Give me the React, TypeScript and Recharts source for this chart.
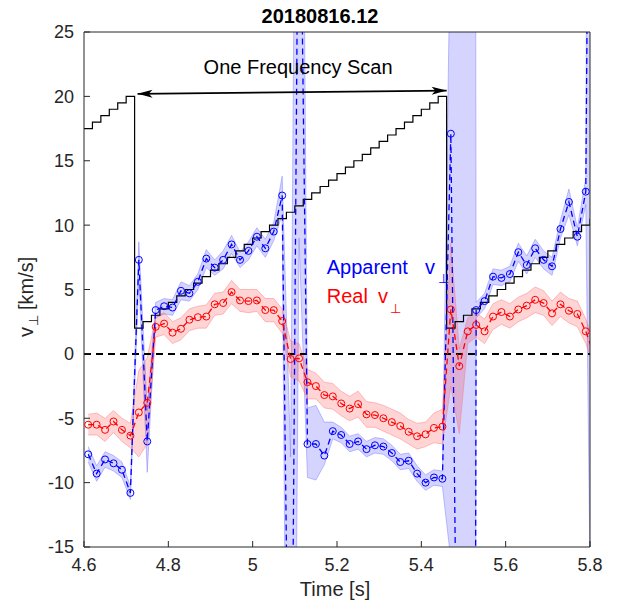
import React from "react";
import { ComposedChart, Line, Area, XAxis, YAxis, ReferenceLine } from "recharts";

const FONT = "'Liberation Sans', Arial, Helvetica, sans-serif";
const INK = "#262626";

// sample times of the velocity estimates [s]
const sampleTimes = [
  4.61, 4.63, 4.65, 4.67, 4.69, 4.71, 4.73, 4.75, 4.77, 4.79, 4.81, 4.83, 4.85, 4.87, 4.89, 4.91,
  4.93, 4.95, 4.97, 4.99, 5.01, 5.03, 5.05, 5.07, 5.09, 5.11, 5.13, 5.15, 5.17, 5.19, 5.21, 5.23,
  5.25, 5.27, 5.29, 5.31, 5.33, 5.35, 5.37, 5.39, 5.41, 5.43, 5.45, 5.47, 5.49, 5.51, 5.53, 5.55,
  5.57, 5.59, 5.61, 5.63, 5.65, 5.67, 5.69, 5.71, 5.73, 5.75, 5.77, 5.79, 5.81,
];

// apparent v_perp [km/s] and its uncertainty band
const apparentV = [
  -7.8, -9.3, -8.2, -8.5, -9.0, -10.8, 7.3, -6.8, 3.4, 3.7, 3.6, 4.9, 4.7, 5.6, 7.4, 6.7,
  7.3, 8.5, 7.3, 8.0, 9.1, 8.2, 9.5, 12.3, -42, 46, -7.0, -7.0, -7.9, -6.0, -6.3, -7.0,
  -6.8, -7.4, -7.1, -7.2, -7.7, -8.4, -8.3, -9.3, -10.0, -9.6, -9.7, 17.1, -45, -300, 3.4, 4.1,
  6.0, 5.9, 6.2, 7.9, 6.9, 8.2, 7.3, 6.8, 9.7, 11.8, 9.1, 12.6, 100,
];
const apparentLo = [
  -8.4, -9.9, -8.8, -9.1, -9.6, -11.3, 5.9, -9.2, 2.8, 3.1, 3.0, 4.2, 4.1, 5.0, 6.7, 6.1,
  6.6, 7.8, 6.7, 7.3, 8.4, 7.5, 8.8, 10.8, -76, 9, -9.6, -9.8, -8.6, -6.6, -6.9, -7.6,
  -7.4, -8.0, -7.7, -7.8, -8.3, -9.0, -8.9, -9.9, -10.6, -10.2, -10.3, -16, -500, -500, 2.8, 3.5,
  5.4, 5.3, 5.6, 7.2, 6.2, 7.5, 6.6, 6.1, 9.0, 10.8, 8.4, 11.6, -45,
];
const apparentHi = [
  -7.2, -8.7, -7.6, -7.9, -8.4, -10.3, 8.7, -4.4, 4.0, 4.3, 4.2, 5.6, 5.3, 6.2, 8.1, 7.3,
  8.0, 9.2, 7.9, 8.7, 9.8, 8.9, 10.2, 13.8, -8, 83, -4.2, -4.0, -5.3, -5.3, -5.7, -6.4,
  -6.2, -6.8, -6.5, -6.6, -7.1, -7.8, -7.7, -8.7, -9.4, -9.0, -9.1, 35, 500, 500, 4.0, 4.7,
  6.6, 6.5, 6.8, 8.6, 7.6, 8.9, 8.0, 7.5, 10.4, 12.8, 9.8, 13.6, 200,
];

// real v_perp [km/s] and its uncertainty band
const realV = [
  -5.5, -5.5, -5.9, -5.25, -5.9, -6.35, -4.55, -3.8, 2.1, 2.35, 1.65, 1.95, 2.65, 2.85, 2.9, 3.85,
  3.95, 4.8, 4.15, 4.1, 4.15, 3.4, 3.4, 2.55, -0.4, -0.35, -2.2, -2.5, -3.2, -3.3, -3.85, -4.25,
  -3.9, -4.7, -4.75, -5.0, -5.3, -5.6, -6.05, -6.4, -6.25, -5.75, -5.65, 3.45, -0.95, 1.75, 2.25, 1.75,
  2.9, 3.25, 2.9, 3.45, 3.75, 4.2, 3.95, 3.15, 3.85, 3.35, 3.1, 1.75, -0.1,
];
const realLo = [
  -6.3, -6.3, -6.8, -6.1, -6.8, -7.3, -8.0, -7.0, 1.3, 1.5, 0.8, 1.1, 1.8, 2.0, 2.0, 3.0,
  3.1, 3.9, 3.3, 3.2, 3.3, 2.5, 2.5, 1.6, -1.8, -2.1, -3.5, -3.5, -4.2, -4.3, -4.8, -5.2,
  -4.9, -5.7, -5.7, -6.0, -6.3, -6.6, -7.0, -7.4, -7.2, -6.9, -7.0, -2.5, -6.2, 0.8, 1.3, 0.8,
  1.9, 2.3, 2.0, 2.5, 2.8, 3.2, 3.0, 2.2, 2.9, 2.4, 2.1, 0.8, -1.1,
];
const realHi = [
  -4.7, -4.6, -5.0, -4.4, -5.0, -5.4, -1.3, -0.3, 2.9, 3.2, 2.5, 2.8, 3.5, 3.7, 3.8, 4.7,
  4.8, 5.7, 5.0, 5.0, 5.0, 4.3, 4.3, 3.5, 1.0, 0.8, -1.2, -1.5, -2.2, -2.3, -2.9, -3.3,
  -2.9, -3.7, -3.8, -4.0, -4.3, -4.6, -5.1, -5.4, -5.3, -4.6, -4.3, 8.6, 0.4, 2.8, 3.2, 2.7,
  3.9, 4.2, 3.9, 4.4, 4.7, 5.2, 4.9, 4.1, 4.8, 4.3, 4.1, 2.7, 0.9,
];

// frequency scan (staircase)
const scanTimes = [
  4.6, 4.62, 4.64, 4.66, 4.68, 4.7, 4.72, 4.74, 4.76, 4.78, 4.8, 4.82, 4.84, 4.86, 4.88, 4.9,
  4.92, 4.94, 4.96, 4.98, 5.0, 5.02, 5.04, 5.06, 5.08, 5.1, 5.12, 5.14, 5.16, 5.18, 5.2, 5.22,
  5.24, 5.26, 5.28, 5.3, 5.32, 5.34, 5.36, 5.38, 5.4, 5.42, 5.44, 5.46, 5.48, 5.5, 5.52, 5.54,
  5.56, 5.58, 5.6, 5.62, 5.64, 5.66, 5.68, 5.7, 5.72, 5.74, 5.76, 5.78, 5.8,
];
const scanLevels = [
  17.5, 18, 18.5, 19, 19.5, 20, 2, 2.5, 3, 3.5, 4, 4.5, 5, 5.5, 6, 6.5,
  7, 7.5, 8, 8.5, 9, 9.5, 10, 10.5, 11, 11.5, 12, 12.5, 13, 13.5, 14, 14.5,
  15, 15.5, 16, 16.5, 17, 17.5, 18, 18.5, 19, 19.5, 20, 2, 2.5, 3, 3.5, 4,
  4.5, 5, 5.5, 6, 6.5, 7, 7.5, 8, 8.5, 9, 9.5, 10, 10.5,
];

const xTicks = [4.6, 4.8, 5, 5.2, 5.4, 5.6, 5.8];
const yTicks = [-15, -10, -5, 0, 5, 10, 15, 20, 25];
const scanArrow = [
  { x: 4.727, y: 20.2 },
  { x: 5.46, y: 20.45 },
];

const rows = sampleTimes.map((t, i) => ({
  t,
  apparent: apparentV[i],
  real: realV[i],
  apparentBand: [apparentLo[i], apparentHi[i]],
  realBand: [realLo[i], realHi[i]],
}));
const scanRows = scanTimes.map((t, i) => ({ t, level: scanLevels[i] }));

function head(tx: number, ty: number, ux: number, uy: number) {
  const L = 15;
  const W = 4;
  const nx = -uy;
  const ny = ux;
  const pts = [
    [tx, ty],
    [tx - L * ux + W * nx, ty - L * uy + W * ny],
    [tx - 0.75 * L * ux, ty - 0.75 * L * uy],
    [tx - L * ux - W * nx, ty - L * uy - W * ny],
  ];
  return pts.map((p) => p.join(",")).join(" ");
}

// eslint-disable-next-line @typescript-eslint/no-explicit-any
function ScanArrow(props: any) {
  const { x1, y1, x2, y2 } = props;
  const len = Math.hypot(x2 - x1, y2 - y1) || 1;
  const ux = (x2 - x1) / len;
  const uy = (y2 - y1) / len;
  return (
    <g>
      <line x1={x1} y1={y1} x2={x2} y2={y2} stroke="#000" strokeWidth={1.7} />
      <polygon points={head(x2, y2, ux, uy)} fill="#000" />
      <polygon points={head(x1, y1, -ux, -uy)} fill="#000" />
      <text
        x={(x1 + x2) / 2 + 6}
        y={(y1 + y2) / 2 - 18}
        textAnchor="middle"
        fontSize={20}
        fontFamily={FONT}
        fill="#000"
      >
        One Frequency Scan
      </text>
    </g>
  );
}

const fmtX = (v: number) => String(Number(v.toFixed(1)));

export default function App() {
  return (
    <div style={{ position: "relative", width: 612, height: 599, fontFamily: FONT }}>
      <ComposedChart
        width={612}
        height={599}
        data={rows}
        margin={{ top: 23, right: 29, bottom: 20, left: 16 }}
      >
        <XAxis
          dataKey="t"
          type="number"
          domain={[4.6, 5.8]}
          ticks={xTicks}
          allowDataOverflow
          height={40}
          tickSize={-6}
          tickMargin={17}
          tickFormatter={fmtX}
          stroke={INK}
          tick={{ fill: INK, fontSize: 18, fontFamily: FONT }}
        />
        <XAxis
          xAxisId="top"
          orientation="top"
          type="number"
          domain={[4.6, 5.8]}
          ticks={xTicks}
          allowDataOverflow
          height={1}
          tickSize={-6}
          tick={false}
          stroke={INK}
        />
        <YAxis
          type="number"
          domain={[-15, 25]}
          ticks={yTicks}
          allowDataOverflow
          width={60}
          tickSize={-6}
          tickMargin={16}
          stroke={INK}
          tick={{ fill: INK, fontSize: 18, fontFamily: FONT }}
        />
        <YAxis
          yAxisId="right"
          orientation="right"
          type="number"
          domain={[-15, 25]}
          ticks={yTicks}
          allowDataOverflow
          width={1}
          tickSize={-6}
          tick={false}
          stroke={INK}
        />
        <Area
          dataKey="apparentBand"
          type="linear"
          fill="#0000ff"
          fillOpacity={0.17}
          stroke="#7070ff"
          strokeOpacity={0.55}
          strokeWidth={0.8}
          dot={false}
          activeDot={false}
          isAnimationActive={false}
        />
        <Area
          dataKey="realBand"
          type="linear"
          fill="#ff0000"
          fillOpacity={0.17}
          stroke="#ff7070"
          strokeOpacity={0.55}
          strokeWidth={0.8}
          dot={false}
          activeDot={false}
          isAnimationActive={false}
        />
        <ReferenceLine y={0} stroke="#000" strokeWidth={2} strokeDasharray="7 5" />
        <Line
          data={scanRows}
          dataKey="level"
          type="stepAfter"
          stroke="#000"
          strokeWidth={1.2}
          dot={false}
          activeDot={false}
          isAnimationActive={false}
        />
        <Line
          dataKey="apparent"
          type="linear"
          stroke="#0000ff"
          strokeWidth={1.3}
          strokeDasharray="6 4"
          dot={{ r: 3.5, stroke: "#0000ff", strokeWidth: 1, fill: "none", strokeDasharray: "none" }}
          activeDot={false}
          isAnimationActive={false}
        />
        <Line
          dataKey="real"
          type="linear"
          stroke="#ff0000"
          strokeWidth={1.3}
          strokeDasharray="6 4"
          dot={{ r: 3.5, stroke: "#ff0000", strokeWidth: 1, fill: "none", strokeDasharray: "none" }}
          activeDot={false}
          isAnimationActive={false}
        />
        <ReferenceLine segment={scanArrow} shape={ScanArrow} ifOverflow="visible" />
      </ComposedChart>
      {/* text overlay, in page coordinates */}
      <svg
        width={620}
        height={607}
        style={{ position: "absolute", left: -8, top: -8, pointerEvents: "none" }}
        fontFamily={FONT}
      >
        <text x={320} y={23} textAnchor="middle" fontSize={20} fontWeight="bold" fill="#000">
          20180816.12
        </text>
        <text x={335} y={596} textAnchor="middle" fontSize={20} fill={INK}>
          Time [s]
        </text>
        <g transform="translate(33,337) rotate(-90)" fill={INK}>
          <text x={0} y={0} fontSize={20}>v</text>
          <text x={11} y={5} fontSize={13}>⊥</text>
          <text x={27} y={0} fontSize={20}>[km/s]</text>
        </g>
        <text x={326.7} y={274} fontSize={20} fill="#0000ff">Apparent</text>
        <text x={425} y={274} fontSize={20} fill="#0000ff">v</text>
        <text x={438} y={283} fontSize={13} fill="#0000ff">⊥</text>
        <text x={326.7} y={303} fontSize={20} fill="#ff0000">Real</text>
        <text x={378} y={303} fontSize={20} fill="#ff0000">v</text>
        <text x={390} y={313} fontSize={13} fill="#ff0000">⊥</text>
      </svg>
    </div>
  );
}
